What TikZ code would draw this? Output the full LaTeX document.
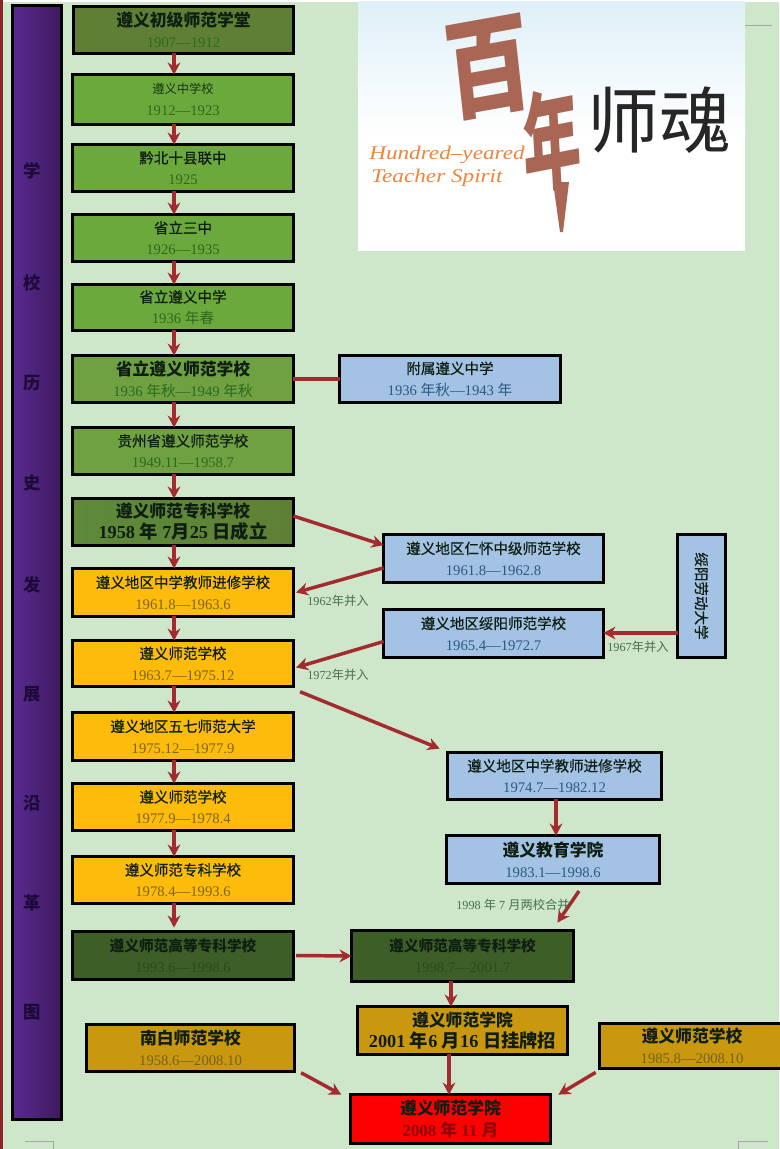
\documentclass[tikz,border=0pt]{standalone}
\usepackage{fontspec}
\setmainfont{Liberation Serif}
\newfontfamily\cjk{Noto Sans CJK SC}
\newfontfamily\cjkm[FakeBold=0.5]{Noto Sans CJK SC}
\usetikzlibrary{arrows.meta,calc}
\definecolor{bg}{HTML}{CEE6C9}
\definecolor{arr}{HTML}{A32A2E}
\definecolor{olivegr}{HTML}{5F8034}
\definecolor{midgr}{HTML}{6CA93C}
\definecolor{dullgr}{HTML}{6FA042}
\definecolor{dkgr}{HTML}{5E8A3A}
\definecolor{yel}{HTML}{FDBC0C}
\definecolor{blu}{HTML}{A3C2E4}
\definecolor{forest}{HTML}{3E5E28}
\definecolor{gold}{HTML}{C9980F}
\definecolor{brush}{HTML}{A96654}
\definecolor{orng}{HTML}{F0843C}
\definecolor{ttl}{HTML}{0E1E12}
\definecolor{barL}{HTML}{5A2A90}
\definecolor{barM}{HTML}{7A2FB0}
\definecolor{barR}{HTML}{3C1A60}
\definecolor{sidetx}{HTML}{1E0A38}
\definecolor{notec}{HTML}{4A6E50}
\definecolor{dgr}{HTML}{2C6A1E}
\definecolor{dye}{HTML}{7E6414}
\definecolor{dbl}{HTML}{2B5A80}
\definecolor{dfo}{HTML}{2A4A1C}
\definecolor{dgo}{HTML}{77601A}
\definecolor{dre}{HTML}{8A0505}
\newcommand{\zh}[1]{{\cjk #1}}
\newcommand{\TR}[1]{{\color{ttl}\cjkm\fontsize{10.9pt}{16pt}\selectfont #1}}
\newcommand{\TS}[1]{{\color{ttl!70!dgr}\cjk\fontsize{9.2pt}{16pt}\selectfont #1}}
\newcommand{\TB}[1]{{\color{ttl}\cjk\bfseries\fontsize{12.6pt}{16pt}\selectfont #1}}
\newcommand{\TM}[1]{{\color{ttl}\cjk\bfseries\fontsize{11pt}{16pt}\selectfont #1}}
\newcommand{\TL}[1]{{\color{ttl}\bfseries\fontsize{13.7pt}{16pt}\selectfont #1}}
\newcommand{\Bx}[7]{\node[box,#2,minimum width={(#5-#3)*0.75pt-2.4pt},minimum height={(#6-#4)*0.75pt-2.4pt}] (#1) at ({(#3+#5)/2},{(#4+#6)/2}) {#7};}
\tikzset{
 box/.style={draw=black,line width=2.4pt,inner sep=0pt,outer sep=0pt,align=center,font=\fontsize{11pt}{16pt}\selectfont},
 gr/.style={fill=midgr,text=dgr},
 gd/.style={fill=dullgr,text=dgr},
 ol/.style={fill=olivegr,text=dgr},
 dg/.style={left color=dkgr,right color=olivegr,text=dgr},
 ye/.style={fill=yel,text=dye},
 bl/.style={fill=blu,text=dbl},
 fo/.style={fill=forest,text=dfo},
 go/.style={fill=gold,text=dgo},
 re/.style={fill=red,text=dre},
 link/.style={draw=arr,line width=2.6pt,-{Stealth[length=9pt,width=9.5pt]}},
 plain/.style={draw=arr,line width=2.6pt},
 note/.style={font=\fontsize{9.2pt}{10pt}\selectfont,text=notec,inner sep=0pt},
 side/.style={font=\cjk\bfseries\fontsize{13pt}{14pt}\selectfont,text=sidetx,inner sep=0pt},
 crop/.style={draw=gray!70,line width=0.6pt}
}
\begin{document}
\begin{tikzpicture}[x=0.75pt,y=-0.75pt]
\useasboundingbox (0,0) rectangle (779,1149);
\fill[bg] (0,0) rectangle (779,1149);
\fill[white] (3,0) rectangle (779,2);
\fill[arr!85!black] (0,0) rectangle (3,1149);
% logo
\definecolor{skyt}{HTML}{DFF0F8}
\fill[top color=skyt,bottom color=white] (358,2) rectangle (745,135);
\fill[white] (358,135) rectangle (745,251);
\node[text=brush,inner sep=0pt,xscale=1.1,yscale=1.4,rotate=8,transform shape,font=\cjk\bfseries\fontsize{58pt}{60pt}\selectfont] (bai) at (488,68) {百};
\fill[brush] (553,182) -- (569,182) -- (563,232) -- (560,232) -- cycle;
\node[text=brush,inner sep=0pt,xscale=0.8,yscale=1.5,rotate=6,transform shape,font=\cjk\bfseries\fontsize{54pt}{56pt}\selectfont] (nian) at (552,140) {年};
\node[inner sep=0pt,text=black!85,font=\cjk\fontsize{54pt}{56pt}\selectfont] (shihun) at (659,120) {师魂};
\node[inner sep=0pt,text=orng,xscale=1.2,transform shape,font=\itshape\fontsize{14.5pt}{15pt}\selectfont] (en1) at (447,155) {Hundred–yeared};
\node[inner sep=0pt,text=orng,xscale=1.2,transform shape,font=\itshape\fontsize{14.5pt}{15pt}\selectfont] (en2) at (437,178) {Teacher Spirit};
% side bar
\node[draw=black,line width=2.4pt,left color=barL,middle color=barM,right color=barR,minimum width={52*0.75pt-2.4pt},minimum height={1117*0.75pt-2.4pt},inner sep=0pt,outer sep=0pt] (bar) at (37,562.5) {};
\node[side] (s1) at (32,171) {学};
\node[side] (s2) at (32,283) {校};
\node[side] (s3) at (32,383) {历};
\node[side] (s4) at (32,483) {史};
\node[side] (s5) at (32,585) {发};
\node[side] (s6) at (32,694) {展};
\node[side] (s7) at (32,803) {沿};
\node[side] (s8) at (32,903) {革};
\node[side] (s9) at (32,1012) {图};
% main column
\Bx{b1}{ol}{72}{5}{295}{55}{\TB{遵义初级师范学堂}\\1907—1912}
\Bx{b2}{gr}{71}{73}{295}{126}{\TS{遵义中学校}\\1912—1923}
\Bx{b3}{gr}{71}{143}{295}{193}{\TR{黔北十县联中}\\1925}
\Bx{b4}{gr}{71}{213}{295}{263}{\TR{省立三中}\\1926—1935}
\Bx{b5}{gr}{71}{283}{295}{332}{\TR{省立遵义中学}\\1936 \zh{年春}}
\Bx{b6}{gd}{71}{354}{295}{404}{\TB{省立遵义师范学校}\\1936 \zh{年秋}—1949 \zh{年秋}}
\Bx{b7}{gd}{71}{426}{295}{476}{\TR{贵州省遵义师范学校}\\1949.11—1958.7}
\Bx{b8}{dg}{71}{497}{295}{547}{\TB{遵义师范专科学校}\\\TL{1958 \zh{年} 7\zh{月}25 \zh{日成立}}}
\Bx{b9}{ye}{71}{567}{295}{618}{\TR{遵义地区中学教师进修学校}\\1961.8—1963.6}
\Bx{b10}{ye}{71}{639}{295}{688}{\TR{遵义师范学校}\\1963.7—1975.12}
\Bx{b11}{ye}{71}{711}{295}{762}{\TR{遵义地区五七师范大学}\\1975.12—1977.9}
\Bx{b12}{ye}{71}{782}{295}{832}{\TR{遵义师范学校}\\1977.9—1978.4}
\Bx{b13}{ye}{71}{855}{295}{905}{\TR{遵义师范专科学校}\\1978.4—1993.6}
\Bx{b14}{fo}{71}{930}{295}{981}{\TM{遵义师范高等专科学校}\\1993.6—1998.6}
% right column
\Bx{fu}{bl}{338}{354}{562}{404}{\TR{附属遵义中学}\\1936 \zh{年秋}—1943 \zh{年}}
\Bx{rh}{bl}{382}{533}{605}{584}{\TR{遵义地区仁怀中级师范学校}\\1961.8—1962.8}
\Bx{sy}{bl}{382}{608}{605}{659}{\TR{遵义地区绥阳师范学校}\\1965.4—1972.7}
\node[box,bl,minimum width={51*0.75pt-2.4pt},minimum height={126*0.75pt-2.4pt}] (ld) at (701.5,596) {};
\node[inner sep=0pt,rotate=-90,text=ttl,font=\cjkm\fontsize{10.9pt}{14pt}\selectfont] (ldt) at (ld.center) {绥阳劳动大学};
\Bx{jx}{bl}{446}{751}{663}{801}{\TR{遵义地区中学教师进修学校}\\1974.7—1982.12}
\Bx{jy}{bl}{445}{834}{661}{885}{\TB{遵义教育学院}\\1983.1—1998.6}
\Bx{gz}{fo}{350}{929}{575}{983}{\TM{遵义师范高等专科学校}\\1998.7—2001.7}
\Bx{xy}{go}{356}{1005}{569}{1056}{\TB{遵义师范学院}\\\TL{2001 \zh{年}6 \zh{月}16 \zh{日挂牌招}}}
\Bx{nb}{go}{85}{1023}{296}{1073}{\TB{南白师范学校}\\1958.6—2008.10}
\Bx{zy}{go}{598}{1022}{786}{1070}{\TB{遵义师范学校}\\1985.8—2008.10}
\Bx{end}{re}{349}{1093}{552}{1145}{\TB{遵义师范学院}\\{\bfseries\fontsize{12.6pt}{16pt}\selectfont 2008 \zh{年} 11 \zh{月}}}
% axis of the main column
\coordinate (ax) at (174,0);
\foreach \a/\b in {b1/b2,b2/b3,b3/b4,b4/b5,b5/b6,b6/b7,b7/b8,b8/b9,b9/b10,b10/b11,b11/b12,b12/b13}
  \draw[link] (\a.south -| ax) -- (\b.north -| ax);
\draw[link] (b13.south -| ax) -- ([yshift=3pt]b14.north -| ax);
% connectors
\draw[plain] (b6.east) -- (fu.west);
\draw[link] ([yshift=4.5pt]b8.east) -- ([yshift=10pt]rh.west);
\draw[link] ([yshift=-7pt]rh.west) -- ([xshift=2pt]b9.east);
\draw[link] ([yshift=-6pt]sy.west) -- ([yshift=-3pt,xshift=2pt]b10.east);
\draw[link] ([yshift=-4pt,xshift=5pt]b10.south east) -- ([yshift=3pt,xshift=-6pt]jx.north west);
\draw[link] (ld.west |- 0,633) -- (sy.east |- 0,633);
\draw[link] (jx.south -| 556,0) -- (jy.north -| 556,0);
\coordinate (jyout) at (579,891);
\draw[link] (jyout) -- ([xshift=-12pt,yshift=6pt]gz.north east);
\draw[link] ([xshift=2pt]b14.east) -- (gz.west);
\draw[link] (gz.south -| 451,0) -- (xy.north -| 451,0);
\draw[link] (xy.south -| 449,0) -- (end.north -| 449,0);
\draw[link] ([xshift=5pt,yshift=-1pt]nb.south east) -- ([xshift=-7pt]end.north west);
\draw[link] ([xshift=-3pt,yshift=-3pt]zy.south west) -- ([xshift=6pt]end.north east);
% notes
\node[note] (n1) at (338,600.5) {1962\zh{年并入}};
\node[note] (n2) at (338,675) {1972\zh{年并入}};
\node[note] (n3) at (638,647) {1967\zh{年并入}};
\node[note] (n4) at (513,905) {1998 \zh{年} 7 \zh{月两校合并}};
% crop marks
\draw[crop] (25,1141) -- (53,1141) -- (53,1149);
\draw[crop] (738,1149) -- (738,1141) -- (768,1141);
\draw[crop] (745,25) -- (772,25);
\end{tikzpicture}
\end{document}
